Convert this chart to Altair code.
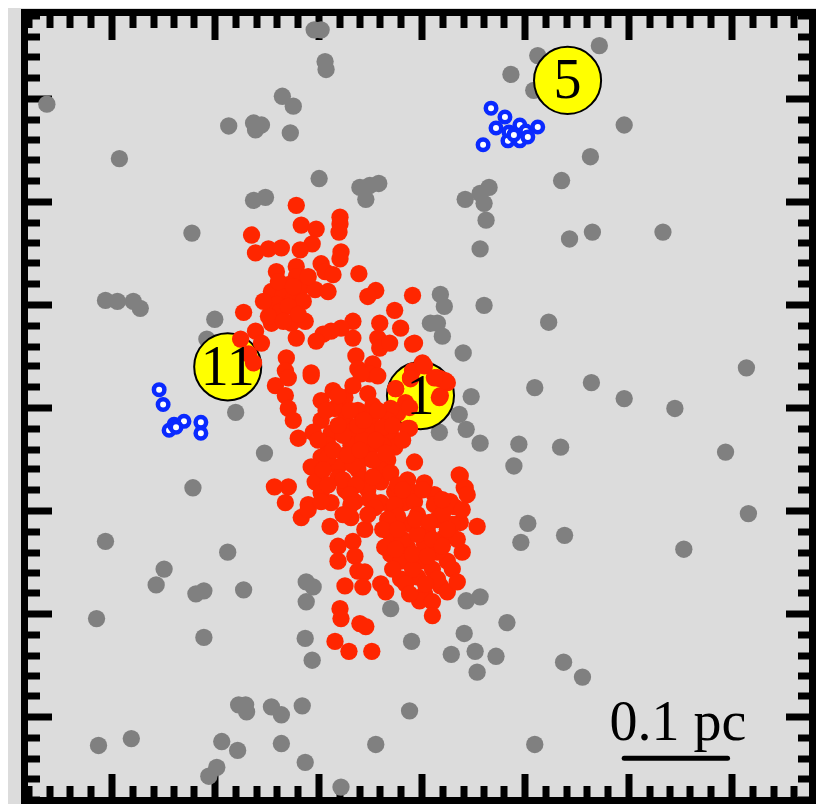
import altair as alt
import pandas as pd

# Positions, in image units (104 units = 0.1 pc); y grows downward.
gray_pts = [
    (316, 31), (323, 31), (327, 63), (328, 71), (541, 57), (603, 47), (514, 76), (537, 92),
    (47, 106), (120, 161), (284, 98), (295, 108), (230, 128), (255, 125), (263, 127), (257, 132),
    (292, 135), (628, 127), (594, 159), (565, 183), (321, 181), (362, 190), (368, 202), (372, 188),
    (381, 186), (468, 202), (483, 196), (492, 190), (487, 206), (489, 223), (483, 252), (573, 242),
    (596, 235), (667, 235), (255, 203), (267, 200), (193, 236), (106, 304), (118, 305), (134, 305),
    (141, 312), (216, 323), (208, 343), (237, 417), (266, 458), (194, 493), (443, 298), (447, 310),
    (487, 309), (440, 327), (445, 340), (433, 327), (552, 326), (466, 357), (751, 372), (538, 392),
    (595, 387), (628, 403), (679, 413), (474, 401), (462, 419), (469, 434), (442, 437), (483, 448),
    (522, 449), (564, 452), (730, 457), (517, 471), (753, 519), (688, 555), (568, 541), (531, 529),
    (524, 548), (106, 547), (229, 558), (165, 575), (157, 591), (197, 600), (205, 597), (245, 596),
    (308, 588), (315, 593), (308, 608), (393, 615), (307, 645), (314, 667), (414, 648), (469, 607),
    (483, 603), (467, 640), (454, 661), (478, 658), (499, 663), (480, 679), (97, 625), (205, 644),
    (510, 629), (567, 669), (586, 684), (412, 718), (240, 712), (247, 712), (248, 719), (273, 714),
    (283, 722), (304, 713), (99, 753), (132, 746), (223, 749), (239, 758), (218, 775), (210, 784),
    (283, 751), (307, 770), (378, 752), (343, 795), (538, 752),
]

red_pts = [
    # upper arm
    (298, 208), (342, 220), (342, 227), (303, 228), (318, 232), (341, 235), (253, 238), (314, 247),
    (257, 256), (270, 252), (283, 251), (302, 253), (343, 255), (342, 262), (298, 270), (323, 267),
    (278, 275), (327, 275), (335, 278), (361, 277), (298, 280), (290, 288), (273, 295), (302, 292),
    (317, 293), (330, 295), (378, 294), (370, 300), (415, 299), (285, 298), (295, 302), (278, 308),
    (305, 305), (282, 315), (245, 316), (397, 314), (273, 327), (293, 327), (307, 325), (355, 325),
    (382, 327), (257, 335), (403, 332), (343, 332), (333, 335), (325, 338), (263, 347), (298, 342),
    (318, 345), (355, 342), (380, 342), (417, 347), (242, 343), (250, 358), (255, 367), (288, 362),
    (358, 360), (382, 352), (392, 347), (287, 375), (313, 377), (360, 373), (375, 368), (372, 378),
    (415, 375), (425, 367), (277, 390), (287, 400),
    (280, 285), (290, 310), (300, 318), (270, 320), (285, 325), (295, 290), (310, 280), (265, 305),
    # around circle 1
    (415, 348), (427, 370), (413, 382), (440, 382), (450, 387), (398, 393), (442, 402), (408, 407),
    (387, 417), (400, 418), (412, 433), (383, 440), (397, 450), (443, 383), (443, 400),
    # central core
    (290, 382), (313, 380), (363, 378), (380, 380), (413, 383), (448, 385), (437, 382), (398, 393),
    (290, 413), (323, 405), (347, 402), (370, 398), (412, 412), (393, 413), (337, 413), (360, 415),
    (295, 425), (323, 425), (347, 425), (373, 422), (390, 425), (410, 433), (315, 437), (300, 443),
    (333, 438), (353, 437), (373, 437), (393, 440), (330, 450), (353, 450), (373, 452), (397, 452),
    (323, 462), (347, 460), (367, 463), (390, 465), (417, 467), (313, 472), (340, 472), (360, 475),
    (383, 475), (317, 487), (290, 492), (276, 492), (340, 483), (363, 485), (383, 487), (410, 485),
    (427, 488), (462, 480), (467, 493), (463, 481), (468, 493), (323, 498), (347, 495), (370, 495),
    (397, 497), (417, 498), (437, 500), (453, 507), (310, 510), (287, 508), (333, 508), (357, 507),
    (383, 508), (407, 508), (335, 395), (355, 390), (375, 410), (345, 440), (365, 445), (385, 450),
    (330, 462), (355, 470), (375, 465), (340, 430), (360, 430), (385, 432),
    (328, 415), (340, 400), (352, 415), (366, 425), (380, 415), (395, 430), (405, 445), (320, 445),
    (335, 455), (350, 460), (362, 455), (378, 445), (388, 458), (325, 475), (345, 485), (358, 490),
    (375, 482), (393, 478), (400, 490), (330, 490), (352, 500), (372, 505), (395, 515),
    # lower clump
    (303, 523), (310, 515), (323, 507), (332, 532), (353, 510), (353, 523), (367, 535), (377, 513),
    (397, 510), (417, 507), (437, 510), (457, 512), (470, 500), (463, 528), (480, 532), (393, 540),
    (413, 530), (430, 537), (447, 543), (340, 552), (355, 547), (340, 567), (357, 562), (393, 560),
    (410, 553), (427, 550), (450, 567), (465, 558), (440, 558), (403, 567), (423, 567), (360, 577),
    (367, 578), (347, 592), (365, 593), (383, 590), (403, 585), (420, 583), (443, 592), (427, 600),
    (422, 607), (435, 608), (342, 615), (343, 625), (362, 630), (368, 633), (435, 622), (337, 648),
    (351, 658), (374, 658), (400, 522), (420, 520), (440, 525), (455, 530), (390, 525), (405, 545),
    (420, 540), (435, 545), (395, 575), (415, 575), (435, 575), (445, 520), (460, 545), (387, 553),
    (345, 520), (370, 520),
    (405, 495), (425, 495), (445, 505), (465, 515), (385, 535), (400, 535), (418, 525), (432, 528),
    (450, 535), (398, 555), (415, 560), (430, 562), (445, 552), (455, 575), (440, 585), (408, 590),
    (388, 598), (428, 590), (412, 600), (450, 598), (460, 588),
]

blue_pts = [
    (494, 110), (508, 119), (499, 130), (512, 134), (518, 135), (523, 127), (529, 133), (541, 129),
    (511, 143), (523, 143), (531, 139), (486, 147), (517, 137),
    (160, 394), (164, 409), (170, 435), (175, 429), (185, 426), (202, 427), (202, 438), (177, 432),
]

labels = ["5", "11", "1"]
label_x = [571, 229, 423]
label_y = [82, 371, 400]

bar_text = ["0.1 pc"]
bar_text_x = [682]
bar_text_y = [747]
bar_x = [628]
bar_x2 = [732]
bar_y = [766]

x_domain = [24.5, 817.5]
y_domain = [13.5, 808.5]
x_major = [112, 216, 320, 424, 528, 632, 736]
y_major = [100, 204, 308, 412, 516, 620, 724]
x_minor = [29, 50, 70, 91, 133, 154, 174, 195, 237, 258, 278, 299, 341, 362, 382, 403,
           445, 466, 486, 507, 549, 570, 590, 611, 653, 674, 694, 715, 757, 778, 798]
y_minor = [17, 38, 58, 79, 121, 142, 162, 183, 225, 246, 266, 287, 329, 350, 370, 391,
           433, 454, 474, 495, 537, 558, 578, 599, 641, 662, 682, 703, 745, 766, 786, 807]

gray = pd.DataFrame(gray_pts, columns=["x", "y"])
red = pd.DataFrame(red_pts, columns=["x", "y"])
blue = pd.DataFrame(blue_pts, columns=["x", "y"])
lab = pd.DataFrame({"x": label_x, "y": label_y, "t": labels})
bt = pd.DataFrame({"x": bar_text_x, "y": bar_text_y, "t": bar_text})
bar = pd.DataFrame({"x": bar_x, "x2": bar_x2, "y": bar_y})

xs = alt.Scale(domain=x_domain, nice=False, zero=False)
ys = alt.Scale(domain=y_domain, nice=False, zero=False, reverse=True)


def ax(orient, values, size):
    return alt.Axis(orient=orient, values=values, tickSize=size, offset=-size,
                    tickWidth=7, tickColor="black", domain=False, labels=False,
                    grid=False)


MAJ = 27
MIN = 15


def X(axis):
    return alt.X("x:Q", scale=xs, axis=axis, title=None)


def Y(axis):
    return alt.Y("y:Q", scale=ys, axis=axis, title=None)


l_gray = alt.Chart(gray).mark_circle(size=300, color="#808080", opacity=1).encode(
    x=X(ax("bottom", x_major, MAJ)), y=Y(ax("left", y_major, MAJ)))

l_yellow = alt.Chart(lab).mark_circle(size=4500, fill="#ffff00", stroke="black",
                                      strokeWidth=2, opacity=1).encode(
    x=X(ax("top", x_major, MAJ)), y=Y(ax("right", y_major, MAJ)))

l_red = alt.Chart(red).mark_circle(size=300, color="#ff2600", opacity=1).encode(
    x=X(ax("bottom", x_minor, MIN)), y=Y(ax("left", y_minor, MIN)))

l_blue = alt.Chart(blue).mark_circle(size=110, fill="white", stroke="#0a2aff",
                                     strokeWidth=4.5, opacity=1).encode(
    x=X(ax("top", x_minor, MIN)), y=Y(ax("right", y_minor, MIN)))

l_lab = alt.Chart(lab).mark_text(font="Liberation Serif", fontSize=56, color="black",
                                 align="center", baseline="middle", dy=1).encode(
    x=X(None), y=Y(None), text="t:N")

l_bt = alt.Chart(bt).mark_text(font="Liberation Serif", fontSize=56, color="black",
                               align="center", baseline="alphabetic").encode(
    x=X(None), y=Y(None), text="t:N")

l_bar = alt.Chart(bar).mark_rule(color="black", strokeWidth=5, strokeCap="round").encode(
    x=X(None), x2="x2:Q", y=Y(None))

chart = alt.layer(l_gray, l_yellow, l_red, l_blue, l_lab, l_bt, l_bar).resolve_axis(
    x="independent", y="independent"
).properties(
    width=788, height=788,
    autosize=alt.AutoSizeParams(type="none"),
    padding={"left": 16.5, "top": 4.5, "right": 3.5, "bottom": 3.5},
    background="#dcdcdc",
).configure_view(stroke="black", strokeWidth=7, fill="#dcdcdc")

chart.save("out.html", embed_options={"renderer": "svg", "actions": False})
